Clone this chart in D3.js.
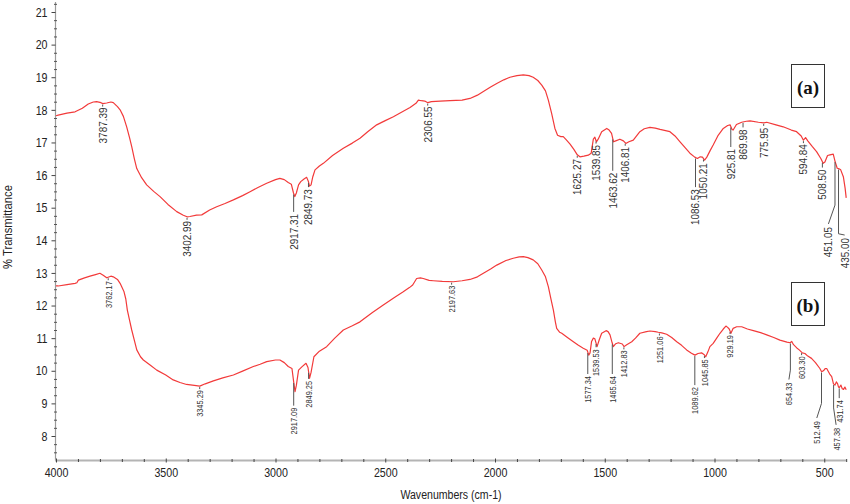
<!DOCTYPE html>
<html>
<head>
<meta charset="utf-8">
<script src="https://cdn.jsdelivr.net/npm/d3@7"></script>
<style>
  body { margin: 0; background: #fff; }
  svg { display: block; font-family: "Liberation Sans", Arial, sans-serif; }
</style>
</head>
<body>
<svg id="chart"></svg>
<script>
// spectrum (a)
const waveA = [4000,3990,3950,3913,3880,3853,3830,3815,3795,3787,3769,3750,3739,3720,3708,3693,3678,3665,3655,3643,3632,3610,3587,3555,3526,3490,3450,3420,3403,3390,3360,3336,3300,3268,3230,3192,3150,3116,3080,3040,3000,2980,2960,2942,2928,2918,2912,2905,2895,2885,2870,2858,2850,2845,2838,2830,2820,2800,2782,2740,2691,2650,2615,2580,2539,2500,2463,2420,2387,2360,2349,2335,2320,2306,2290,2250,2205,2150,2114,2080,2053,2020,1992,1960,1932,1900,1871,1845,1826,1805,1787,1770,1757,1742,1727,1715,1700,1689,1675,1658,1640,1625,1613,1595,1575,1562,1552,1545,1538,1530,1514,1491,1480,1469,1460,1450,1431,1415,1404,1390,1370,1340,1320,1294,1270,1248,1203,1180,1157,1135,1112,1090,1078,1065,1055,1045,1035,1020,1006,985,960,940,929,920,915,900,876,855,838,800,775,762,720,687,650,626,605,595,585,575,555,535,515,505,497,485,474,459,450,441,435,425,413,405,400];
const transA = [17.82,17.84,17.9,17.94,18.05,18.18,18.24,18.25,18.22,18.19,18.21,18.24,18.22,18.1,18.0,17.8,17.48,17.15,16.87,16.5,16.2,15.92,15.7,15.5,15.34,15.1,14.88,14.77,14.72,14.73,14.77,14.78,14.93,15.03,15.13,15.24,15.37,15.49,15.62,15.75,15.86,15.9,15.86,15.77,15.72,15.45,15.34,15.45,15.7,15.8,15.88,15.93,15.8,15.66,15.7,15.95,16.16,16.28,16.36,16.6,16.82,16.98,17.13,17.33,17.54,17.67,17.79,17.95,18.07,18.2,18.3,18.28,18.27,18.22,18.25,18.27,18.28,18.3,18.35,18.45,18.56,18.7,18.81,18.92,19.0,19.05,19.07,19.05,19.0,18.9,18.76,18.58,18.3,17.89,17.43,17.22,17.18,17.18,17.08,16.95,16.78,16.62,16.56,16.58,16.61,16.67,17.1,17.16,17.02,17.1,17.33,17.43,17.38,17.28,17.02,17.05,17.1,17.05,16.97,17.02,17.07,17.33,17.42,17.46,17.44,17.4,17.33,17.2,17.02,16.85,16.67,16.55,16.51,16.56,16.55,16.46,16.55,16.75,16.92,17.2,17.43,17.52,17.54,17.4,17.38,17.55,17.62,17.65,17.66,17.62,17.6,17.62,17.54,17.48,17.38,17.33,17.2,17.07,17.15,17.05,16.88,16.72,16.5,16.36,16.4,16.6,16.62,16.64,16.4,16.21,16.2,16.16,15.95,15.6,15.3];

// spectrum (b)
const waveB = [4000,3990,3950,3913,3905,3898,3870,3845,3820,3800,3785,3769,3750,3739,3720,3708,3690,3682,3675,3665,3655,3643,3632,3615,3602,3570,3541,3500,3466,3435,3405,3370,3345,3320,3283,3240,3192,3150,3101,3070,3040,3000,2980,2960,2942,2925,2916,2911,2905,2895,2880,2861,2852,2845,2838,2825,2800,2767,2730,2691,2650,2615,2560,2509,2460,2418,2390,2375,2357,2340,2327,2300,2281,2240,2190,2150,2114,2080,2053,2020,1992,1950,1917,1890,1871,1850,1826,1805,1787,1770,1757,1745,1734,1725,1719,1705,1696,1670,1643,1620,1598,1580,1573,1567,1560,1552,1545,1535,1525,1514,1494,1485,1476,1466,1461,1450,1438,1420,1412,1400,1377,1360,1340,1310,1294,1270,1256,1240,1218,1195,1172,1150,1127,1105,1089,1075,1059,1048,1040,1030,1021,1006,990,975,960,948,940,933,925,915,899,876,850,823,790,762,730,702,670,656,648,640,625,614,600,588,575,558,540,520,512,504,495,489,475,466,458,451,445,439,435,431,424,418,412,406,400];
const transB = [12.6,12.6,12.64,12.68,12.7,12.78,12.85,12.9,12.95,12.99,12.93,12.85,12.9,12.88,12.8,12.68,12.42,12.2,11.86,11.55,11.25,10.93,10.64,10.43,10.33,10.17,10.02,9.87,9.72,9.64,9.58,9.55,9.53,9.6,9.69,9.78,9.87,9.99,10.13,10.2,10.28,10.33,10.33,10.25,10.13,10.07,9.6,9.36,9.55,10.02,10.12,10.23,10.1,9.77,9.95,10.43,10.6,10.74,11.0,11.25,11.38,11.5,11.78,12.02,12.24,12.42,12.55,12.63,12.83,12.85,12.83,12.77,12.76,12.74,12.73,12.76,12.8,12.88,12.99,13.12,13.24,13.38,13.45,13.49,13.5,13.47,13.4,13.28,13.09,12.88,12.58,12.2,11.86,11.5,11.3,11.18,11.15,11.02,10.89,10.78,10.69,10.63,10.48,10.55,10.9,11.0,10.98,10.74,10.95,11.15,11.23,11.2,11.1,10.85,10.74,10.83,10.86,10.82,10.74,10.8,10.89,11.0,11.15,11.2,11.22,11.2,11.18,11.16,11.12,11.02,10.89,10.78,10.64,10.54,10.48,10.53,10.55,10.5,10.43,10.58,10.74,10.84,11.0,11.15,11.28,11.37,11.33,11.28,11.15,11.3,11.35,11.35,11.28,11.23,11.17,11.1,11.02,10.94,10.88,10.86,10.9,10.8,10.7,10.64,10.55,10.53,10.45,10.38,10.25,10.07,9.97,10.0,10.07,10.07,9.9,9.82,9.6,9.56,9.66,9.6,9.5,9.49,9.56,9.45,9.43,9.5,9.42];

// peak labels: [wavenumber, text, %T at top of text, %T of leader bend, wavenumber of text]
const peaksA = [
  [3787.39, "3787.39", 18.12],
  [3402.99, "3402.99", 14.62],
  [2917.31, "2917.31", 14.84],
  [2849.73, "2849.73", 15.6],
  [2306.55, "2306.55", 18.15],
  [1625.27, "1625.27", 16.52],
  [1539.85, "1539.85", 16.95],
  [1463.62, "1463.62", 16.1],
  [1406.81, "1406.81", 16.89],
  [1086.53, "1086.53", 15.6],
  [1050.21, "1050.21", 16.39],
  [925.81, "925.81", 16.83],
  [869.98, "869.98", 17.43],
  [775.95, "775.95", 17.48],
  [594.84, "594.84", 17.08],
  [508.50, "508.50", 16.2],
  [451.05, "451.05", 14.44, 15.08, 481],
  [435.00, "435.00", 14.1, 14.2, 407]
];
const peaksB = [
  [3762.17, "3762.17", 12.84],
  [3345.29, "3345.29", 9.46],
  [2917.09, "2917.09", 8.9],
  [2849.25, "2849.25", 9.72],
  [2197.63, "2197.63", 12.68],
  [1577.34, "1577.34", 9.87],
  [1539.53, "1539.53", 10.69],
  [1465.64, "1465.64", 9.87],
  [1412.83, "1412.83", 10.66],
  [1251.06, "1251.06", 11.1],
  [1089.62, "1089.62", 9.53],
  [1045.85, "1045.85", 10.38],
  [929.19, "929.19", 11.2],
  [654.33, "654.33", 9.67, 10.02, 661],
  [603.30, "603.30", 10.47],
  [512.49, "512.49", 8.49, 9.0, 534],
  [457.38, "457.38", 8.28, 8.86, 446],
  [431.74, "431.74", 9.13]
];

const xMajor = [4000, 3500, 3000, 2500, 2000, 1500, 1000, 500];
const yMajor = [8, 9, 10, 11, 12, 13, 14, 15, 16, 17, 18, 19, 20, 21];

const width = 850, height = 504;
const plotBottom = 460.5, plotTop = 2;

const svg = d3.select('#chart').attr('width', width).attr('height', height);

const x = d3.scaleLinear().domain([4000, 400]).range([56, 846.2]);
const y = d3.scaleLinear().domain([8, 21]).range([436, 12]);

// squeeze text a little, the original font is narrow
function squeeze(sel, k) {
  sel.each(function() {
    const n = this.getComputedTextLength();
    d3.select(this).attr('textLength', n * k).attr('lengthAdjust', 'spacingAndGlyphs');
  });
}

// Y axis
svg.append('line')
  .attr('x1', 55.5).attr('x2', 55.5)
  .attr('y1', plotTop).attr('y2', plotBottom)
  .attr('stroke', '#9a9a9a').attr('stroke-width', 1.2);

const yMinor = d3.range(7.5, 21.3, 0.25).filter(v => Math.abs(v - Math.round(v)) > 0.01);
svg.append('g')
  .attr('transform', 'translate(57,0)')
  .call(d3.axisLeft(y).tickValues(yMinor).tickSize(3).tickFormat(''))
  .call(g => g.select('.domain').remove())
  .selectAll('line').attr('stroke', '#555');

const yAxisG = svg.append('g')
  .attr('transform', 'translate(55.5,0)')
  .call(d3.axisLeft(y).tickValues(yMajor).tickSize(4).tickPadding(4).tickFormat(d3.format('d')));
yAxisG.select('.domain').remove();
yAxisG.selectAll('line').attr('stroke', '#444');
yAxisG.selectAll('text')
  .attr('font-family', '"Liberation Sans", Arial, sans-serif')
  .attr('font-size', 13).attr('fill', '#222')
  .call(squeeze, 0.82);

// X axis
svg.append('line')
  .attr('x1', 55).attr('x2', 847)
  .attr('y1', plotBottom).attr('y2', plotBottom)
  .attr('stroke', '#b4b4b4').attr('stroke-width', 2);

const xMinor = d3.range(3900, 399, -100).filter(v => v % 500 !== 0);
svg.append('g')
  .attr('transform', `translate(0,${plotBottom - 1.5})`)
  .call(d3.axisBottom(x).tickValues(xMinor).tickSize(3).tickFormat(''))
  .call(g => g.select('.domain').remove())
  .selectAll('line').attr('stroke', '#444');

const xAxisG = svg.append('g')
  .attr('transform', `translate(0,${plotBottom - 2})`)
  .call(d3.axisBottom(x).tickValues(xMajor).tickSize(4).tickPadding(5).tickFormat(d3.format('d')));
xAxisG.select('.domain').remove();
xAxisG.selectAll('line').attr('stroke', '#444');
xAxisG.selectAll('text')
  .attr('font-family', '"Liberation Sans", Arial, sans-serif')
  .attr('font-size', 13).attr('fill', '#222')
  .call(squeeze, 0.82);

// axis titles
svg.append('text')
  .attr('transform', 'translate(8,227) rotate(-90)')
  .attr('text-anchor', 'middle')
  .attr('dy', '0.35em')
  .attr('font-size', 12.5).attr('fill', '#222')
  .text('% Transmittance')
  .call(squeeze, 0.9);

svg.append('text')
  .attr('x', 451).attr('y', 499)
  .attr('text-anchor', 'middle')
  .attr('font-size', 12).attr('fill', '#222')
  .text('Wavenumbers (cm-1)')
  .call(squeeze, 0.88);

// spectra
const line = d3.line().x(d => x(d[0])).y(d => y(d[1]));
function drawSpectrum(ws, ts) {
  svg.append('path')
    .datum(ws.map((w, i) => [w, ts[i]]))
    .attr('d', line)
    .attr('fill', 'none')
    .attr('stroke', '#f23a3a')
    .attr('stroke-width', 1.2)
    .attr('stroke-linejoin', 'round');
}

function valueAt(ws, ts, w) {
  for (let i = 0; i < ws.length - 1; i++) {
    if (ws[i] >= w && w >= ws[i + 1]) {
      const t = (ws[i] - w) / (ws[i] - ws[i + 1]);
      return ts[i] + t * (ts[i + 1] - ts[i]);
    }
  }
  return ts[ts.length - 1];
}

function drawPeaks(ws, ts, peaks, fontSize, k) {
  const g = svg.append('g');
  peaks.forEach(p => {
    const [w, label, topT, bendT, textW] = p;
    const px = x(w);
    const cy = y(valueAt(ws, ts, w));
    const ty = y(topT);
    const tx = textW !== undefined ? x(textW) : px;
    let pts;
    if (bendT !== undefined) {
      pts = [[px, cy + 1], [px, y(bendT)], [tx, ty - 2]];
    } else {
      pts = [[px, cy + 1], [px, Math.max(cy + 3, ty - 1)]];
    }
    g.append('path')
      .attr('d', d3.line()(pts))
      .attr('fill', 'none')
      .attr('stroke', '#555')
      .attr('stroke-width', 1);
    g.append('text')
      .attr('transform', `translate(${tx},${Math.max(ty, cy + 3) + 1}) rotate(-90)`)
      .attr('text-anchor', 'end')
      .attr('dy', '0.36em')
      .attr('font-size', fontSize)
      .attr('fill', '#333')
      .text(label)
      .call(squeeze, k);
  });
}

drawSpectrum(waveA, transA);
drawSpectrum(waveB, transB);
drawPeaks(waveA, transA, peaksA, 11, 0.9);
drawPeaks(waveB, transB, peaksB, 9.5, 0.78);

// panel tags
function tag(label, top) {
  svg.append('rect')
    .attr('x', 791.5).attr('y', top)
    .attr('width', 33).attr('height', 43)
    .attr('fill', '#fff').attr('stroke', '#333').attr('stroke-width', 1);
  svg.append('text')
    .attr('x', 808).attr('y', top + 29)
    .attr('text-anchor', 'middle')
    .attr('font-family', '"Liberation Serif", "Times New Roman", serif')
    .attr('font-weight', 'bold')
    .attr('font-size', 19)
    .attr('fill', '#111')
    .text(label);
}
tag('(a)', 64.5);
tag('(b)', 282.5);
</script>
</body>
</html>
